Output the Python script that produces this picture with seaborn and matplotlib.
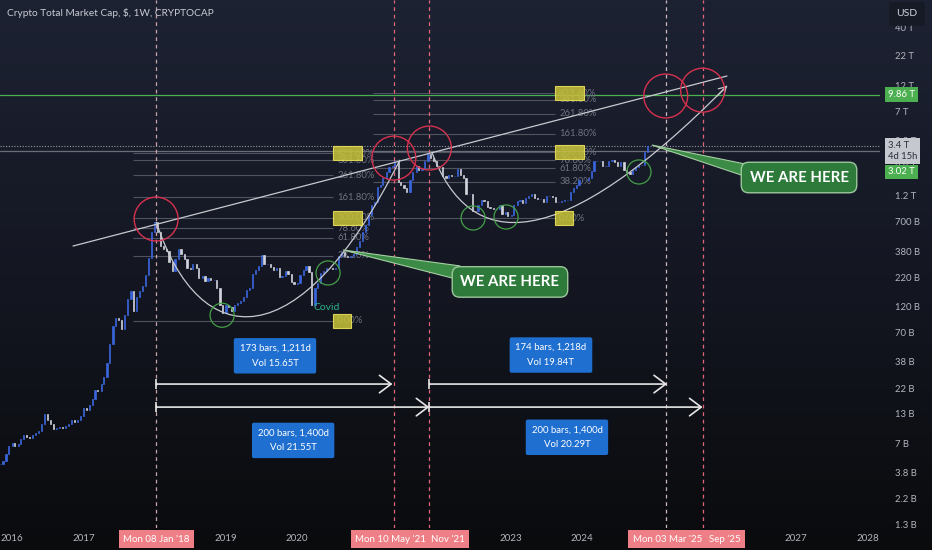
import matplotlib
matplotlib.use("Agg")
import matplotlib.pyplot as plt
import matplotlib.dates as mdates
import numpy as np
import pandas as pd
import seaborn as sns
from matplotlib.colors import LinearSegmentedColormap
from matplotlib.path import Path
from matplotlib.patches import PathPatch, Polygon

# half-monthly closes (1st / 15th), billions of USD
close_2015 = [4.5, 4.8, 5.6, 6.6]
close_2016 = [7.0, 6.6, 6.9, 7.6, 8.2, 7.9, 7.8, 8.2, 8.6, 9.0, 10.5, 12.8,
              11.2, 10.4, 9.4, 9.6, 9.7, 9.6, 9.9, 10.4, 11.3, 10.9, 11.4, 12.2]
close_2017 = [14.5, 14.0, 15.5, 17.5, 21.0, 20.5, 24.0, 27.5, 37.0, 55.0, 80.0, 95.0,
              90.0, 75.0, 100.0, 140.0, 165.0, 110.0, 145.0, 165.0, 185.0, 230.0, 330.0, 560.0]
close_2018 = [700, 560, 420, 400, 380, 300, 250, 320, 400, 360, 320, 270,
              260, 290, 270, 215, 225, 205, 215, 210, 210, 175, 125, 105]
close_2019 = [125, 118, 110, 125, 130, 135, 145, 170, 175, 235, 255, 280,
              350, 290, 290, 275, 255, 265, 220, 225, 250, 235, 200, 190]
close_2020 = [195, 230, 255, 280, 245, 125, 175, 195, 240, 250, 270, 265,
              260, 270, 340, 370, 345, 335, 345, 360, 410, 470, 560, 650]
close_2021 = [800, 1000, 1050, 1450, 1500, 1750, 1950, 2200, 2250, 2500, 1600, 1500,
              1400, 1300, 1650, 1950, 2250, 2050, 2100, 2450, 2850, 2650, 2450, 2250]
close_2022 = [2200, 1800, 1750, 1850, 1800, 1800, 2100, 1850, 1750, 1250, 1250, 880,
              870, 1000, 1100, 1080, 950, 930, 920, 920, 1000, 820, 850, 790]
close_2023 = [800, 1000, 1070, 1100, 1030, 1150, 1200, 1250, 1150, 1130, 1130, 1050,
              1200, 1200, 1180, 1050, 1050, 1070, 1100, 1100, 1300, 1400, 1500, 1650]
close_2024 = [1650, 1650, 1750, 2000, 2450, 2500, 2500, 2250, 2250, 2450, 2550, 2400,
              2250, 2400, 2050, 1950, 1900, 2050, 2200, 2300, 2300, 3000, 3350, 3400]

closes = (close_2015 + close_2016 + close_2017 + close_2018 + close_2019
          + close_2020 + close_2021 + close_2022 + close_2023 + close_2024)

# price scale
tick_values = [40e12, 22e12, 12e12, 7e12, 3.8e12, 2.2e12, 1.2e12, 700e9, 380e9, 220e9,
               120e9, 70e9, 38e9, 22e9, 13e9, 7e9, 3.8e9, 2.2e9, 1.3e9]
year_ticks = [2016, 2017, 2019, 2020, 2023, 2024, 2027, 2028]

# fibonacci retracements
fib_levels = [0, 0.382, 0.618, 0.786, 1, 1.618, 2.618, 3.618, 4.236]
fib_labels = ["0.00%", "38.20%", "61.80%", "78.60%", "100.00%",
              "161.80%", "261.80%", "361.80%", "423.60%"]
fib_marked = ["0.00%", "100.00%", "423.60%"]
fib_a = ("2017-09-12", "2020-07-02", 89e9, 757e9)
fib_b = ("2021-01-23", "2023-08-14", 756e9, 2.98e12)

# cycle markers
vline_dates = ["2018-01-08", "2021-05-10", "2021-11-08", "2025-03-03", "2025-09-08"]
vline_colors = ["#c9a3ab", "#e0677a", "#e0677a", "#cdb9bd", "#e0677a"]
top_dates = ["2018-01-08", "2021-05-10", "2021-11-08", "2025-03-03", "2025-09-08"]
top_values = [740e9, 2.63e12, 3.24e12, 9.57e12, 10.8e12]
low_dates = ["2018-12-12", "2020-06-07", "2022-06-20", "2022-12-06", "2024-10-17"]
low_values = [100e9, 241e9, 756e9, 772e9, 1.97e12]

# date ranges
range_arrows = [("2018-01-08", "2021-05-03", 23.9e9), ("2018-01-08", "2021-11-08", 14.8e9),
                ("2021-11-08", "2025-03-10", 23.9e9), ("2021-11-08", "2025-09-08", 14.8e9)]
range_boxes = [("2019-09-09", 43e9, "173 bars, 1,211d\nVol 15.65T"),
               ("2019-12-11", 7.4e9, "200 bars, 1,400d\nVol 21.55T"),
               ("2023-07-24", 43.7e9, "174 bars, 1,218d\nVol 19.84T"),
               ("2023-10-14", 7.9e9, "200 bars, 1,400d\nVol 20.29T")]

# highlighted dates on the time axis (pushed apart where they collide)
date_labels = [("2022-02-10", "Nov '21"), ("2021-04-25", "Mon 10 May '21"),
               ("2026-01-01", "Sep '25"), ("2025-03-12", "Mon 03 Mar '25"),
               ("2018-01-08", "Mon 08 Jan '18")]


def d(s):
    return mdates.date2num(pd.Timestamp(s))


def fmt_price(v):
    if v >= 1e12:
        return f"{v / 1e12:g} T"
    return f"{v / 1e9:g} B"


sns.set_style("dark", {"axes.facecolor": "none"})
plt.rcParams["font.family"] = ["Lato", "DejaVu Sans"]

fig = plt.figure(figsize=(9.32, 5.5), dpi=100)

# background gradient
bg = fig.add_axes([0, 0, 1, 1], zorder=-1)
cmap = LinearSegmentedColormap.from_list("tv", ["#1d2233", "#141722", "#0a0b0d"])
bg.imshow(np.linspace(0, 1, 256).reshape(-1, 1), aspect="auto", cmap=cmap, extent=[0, 1, 0, 1])
bg.set_axis_off()

ax = fig.add_axes([0, 22 / 550, 880 / 932, 528 / 550])
ax.set_facecolor("none")
ax.set_yscale("log")
for sp in ax.spines.values():
    sp.set_visible(False)

# candles
dates = pd.date_range("2015-11-01", periods=len(closes), freq="SMS")
xnum = mdates.date2num(dates)
close = np.array(closes) * 1e9
openp = np.r_[close[0], close[:-1]]
lo = np.minimum(openp, close)
hi = np.maximum(openp, close)
colors = np.where(close >= openp, "#3a66dd", "#d1d4dc")
ax.bar(xnum, hi - lo, bottom=lo, width=6, color=colors, edgecolor=colors,
       linewidth=0.5, zorder=3)

xmin, xmax = d("2015-10-31"), d("2028-03-05")

# horizontal levels
ax.axhline(9.86e12, color="#4caf50", lw=0.9, zorder=1.5)
ax.axhline(3.02e12, color="#6a6d78", lw=0.9, zorder=1.5)
ax.axhline(3.4e12, color="#9598a1", lw=0.8, ls=(0, (1, 1.5)), zorder=1.5)

# fibonacci sets
for start, end, p0, p1 in [fib_a, fib_b]:
    for lvl, lab in zip(fib_levels, fib_labels):
        price = p0 + lvl * (p1 - p0)
        ax.hlines(price, d(start), d(end), color="#4f535f", lw=0.8, zorder=1)
        ax.annotate(lab, xy=(d(end), price), xytext=(3, 0), textcoords="offset points",
                    ha="left", va="center", fontsize=6.8, color="#6f7380", zorder=2)
        if lab in fib_marked:
            ax.annotate(lab[:-2], xy=(d(end), price), xytext=(2, 0), textcoords="offset points",
                        ha="left", va="center", fontsize=6.8, color=(0, 0, 0, 0), zorder=6,
                        bbox=dict(boxstyle="square,pad=0.25", fc="#c9c43a", ec="#f2e85c",
                                  lw=0.8, alpha=0.85))

# cycle verticals
for vd, vc in zip(vline_dates, vline_colors):
    ax.axvline(d(vd), color=vc, lw=0.9, ls=(0, (3, 3)), zorder=2)

# trend line and arcs
sns.lineplot(x=[d("2016-11-08"), d("2026-01-11")], y=[422e9, 14.5e12], ax=ax,
             color="#c8cad0", lw=0.9, zorder=4)

arc1 = [("2018-01-08", 700e9), ("2018-08-21", 43.7e9), ("2020-01-15", 39.4e9), ("2021-06-10", 2.53e12)]
arc2 = [("2021-11-21", 2.98e12), ("2022-06-04", 350e9), ("2023-09-08", 350e9), ("2026-01-11", 11.8e12)]
codes = [Path.MOVETO, Path.CURVE4, Path.CURVE4, Path.CURVE4]
for arc in [arc1, arc2]:
    verts = [(d(a), b) for a, b in arc]
    ax.add_patch(PathPatch(Path(verts, codes), fill=False, ec="#c8cad0", lw=0.9, zorder=4))
ax.annotate("", xy=(d("2026-01-11"), 11.8e12), xytext=(d("2025-11-21"), 9.57e12),
            arrowprops=dict(arrowstyle="->,head_length=0.5,head_width=0.3", color="#c8cad0",
                            lw=0.9, shrinkA=0, shrinkB=0), zorder=4)

# circles
ax.scatter([d(x) for x in top_dates], top_values, s=1000, facecolors="none",
           edgecolors="#d7314f", linewidths=1.0, zorder=5)
ax.scatter([d(x) for x in low_dates], low_values, s=300, facecolors="none",
           edgecolors="#43a047", linewidths=0.9, zorder=5)

ax.text(d("2020-03-22"), 118e9, "Covid", color="#2bb38a", fontsize=7.5, ha="left",
        va="center", zorder=6)

# date range arrows and boxes
for a, b, y in range_arrows:
    ax.annotate("", xy=(d(b), y), xytext=(d(a), y),
                arrowprops=dict(arrowstyle="->,head_length=0.6,head_width=0.45",
                                color="#e6e6e6", lw=1.2, shrinkA=0, shrinkB=0,
                                mutation_scale=14), zorder=6)
    ax.scatter([d(a)], [y], marker="|", s=45, color="#e6e6e6", linewidths=1.2, zorder=6)
for bx, by, txt in range_boxes:
    ax.text(d(bx), by, txt, ha="center", va="center", color="white", fontsize=6.9,
            linespacing=1.85, zorder=6,
            bbox=dict(boxstyle="round,pad=0.6,rounding_size=0.2", fc="#1f6fd1", ec="none"))

# WE ARE HERE callouts
callouts = [(("2020-08-22", 389e9), ("2022-04-14", 279e9), ("2022-04-14", 208e9), ("2022-12-26", 200e9)),
            (("2024-12-22", 3.45e12), ("2026-05-08", 2.28e12), ("2026-05-08", 1.74e12), ("2027-01-15", 1.755e12))]
for tip, b1, b2, centre in callouts:
    poly = [(d(tip[0]), tip[1]), (d(b1[0]), b1[1]), (d(b2[0]), b2[1])]
    ax.add_patch(Polygon(poly, closed=True, fc="#3b8a45", ec="#a5cfa3", lw=0.8, zorder=7))
    ax.text(d(centre[0]), centre[1], "WE ARE HERE", ha="center", va="center", color="white",
            fontsize=10.8, fontweight="bold", zorder=8,
            bbox=dict(boxstyle="round,pad=0.55,rounding_size=0.5", fc="#2e7a3b",
                      ec="#9cc79b", lw=1.0))

# axes
ax.set_xlim(xmin, xmax)
ax.set_ylim(10 ** 9.078, 10 ** 13.848)
ax.yaxis.tick_right()
ax.set_yticks(tick_values)
ax.set_yticklabels([fmt_price(v) for v in tick_values])
ax.yaxis.set_minor_locator(matplotlib.ticker.NullLocator())
ax.tick_params(axis="y", length=0, pad=11, labelsize=6.8, labelcolor="#b2b5be")
ax.set_xticks([d(f"{y}-01-01") for y in year_ticks])
ax.set_xticklabels([str(y) for y in year_ticks])
ax.tick_params(axis="x", length=0, pad=4, labelsize=7, labelcolor="#b2b5be")
ax.grid(False)

# highlighted dates under the x axis
xt = ax.get_xaxis_transform()
for ld, lt in date_labels:
    ax.text(d(ld), -0.021, lt, transform=xt, ha="center", va="center", color="white",
            fontsize=7, clip_on=False, zorder=20,
            bbox=dict(boxstyle="square,pad=0.45", fc="#ef7f86", ec="none"))

# price scale labels
yt = ax.get_yaxis_transform()
ax.text(1.009, 9.86e12, "9.86 T", transform=yt, ha="left", va="center", color="white",
        fontsize=6.8, clip_on=False, zorder=20,
        bbox=dict(boxstyle="square,pad=0.3", fc="#4caf50", ec="none"))
ax.text(1.009, 3.05e12, "3.4 T\n4d 15h", transform=yt, ha="left", va="center",
        color="#2a2e39", fontsize=6.8, clip_on=False, zorder=20, linespacing=1.3,
        bbox=dict(boxstyle="square,pad=0.3", fc="#c5c8cf", ec="none"))
ax.text(1.009, 1.97e12, "3.02 T", transform=yt, ha="left", va="center", color="white",
        fontsize=6.8, clip_on=False, zorder=20,
        bbox=dict(boxstyle="square,pad=0.3", fc="#4caf50", ec="none"))

fig.text(907 / 932, 1 - 14 / 550, "USD", ha="center", va="center", color="#d1d4dc",
         fontsize=7.5, zorder=20,
         bbox=dict(boxstyle="round,pad=0.7,rounding_size=0.2", fc="#161a25", ec="none"))
fig.text(7 / 932, 1 - 13 / 550, "Crypto Total Market Cap, $, 1W, CRYPTOCAP",
         ha="left", va="center", color="#c9ccd4", fontsize=7.3)

fig.savefig("out.png", dpi=100)
